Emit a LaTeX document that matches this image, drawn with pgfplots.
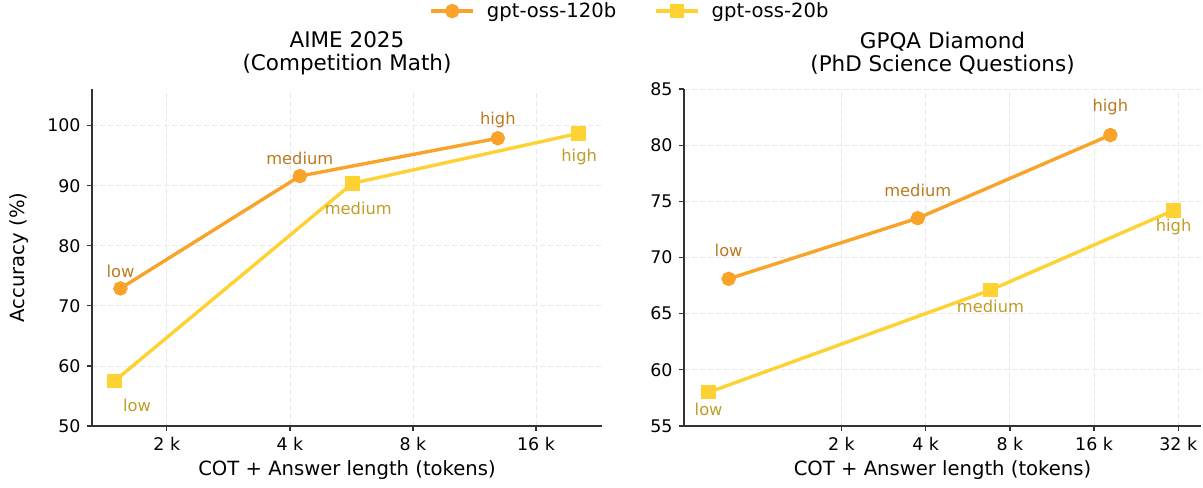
\documentclass[border=0pt]{standalone}
\usepackage{fontspec}
\setmainfont{DejaVu Sans}
\usepackage{pgfplots}
\pgfplotsset{compat=1.18}

\definecolor{c120}{HTML}{F9A32A}
\definecolor{c20}{HTML}{FDD232}
\definecolor{t120}{HTML}{BB7A20}
\definecolor{t20}{HTML}{BE9E26}
\definecolor{spine}{HTML}{333333}

\newcommand{\tickfont}{\fontsize{17.4bp}{20bp}\selectfont}
\newcommand{\labfont}{\fontsize{19.6bp}{22bp}\selectfont}
\newcommand{\titfont}{\fontsize{21.5bp}{23bp}\selectfont}
\newcommand{\annfont}{\fontsize{16.3bp}{18bp}\selectfont}

\pgfplotsset{
  mypanel/.style={
    scale only axis,
    axis x line*=bottom, axis y line*=left,
    axis line style={-, spine, line width=1.3bp},
    tick style={spine, line width=1.3bp},
    tick align=outside,
    major tick length=5bp,
    minor tick length=0pt,
    xtick={2,4,8,16,32},
    xticklabels={2 k,4 k,8 k,16 k,32 k},
    xticklabel shift=3bp, yticklabel shift=3bp,
    ticklabel style={font=\tickfont},
    /pgf/number format/assume math mode=true,
    grid=major,
    major grid style={gray!18, line width=0.8bp, dash pattern=on 5bp off 3bp},
    title style={font=\titfont, align=center, yshift=5bp},
    xlabel={COT + Answer length (tokens)},
    xlabel style={font=\labfont, at={(axis description cs:0.5,0)}, anchor=center, yshift=-44bp},
    clip=false,
  },
  s120/.style={c120, line width=3.4bp, mark=*, mark size=5.5bp, mark options={solid, fill=c120, draw=c120}},
  s20/.style={c20, line width=3.4bp, mark=square*, mark size=5.5bp, mark options={solid, fill=c20, draw=c20}},
}

\begin{document}
\begin{tikzpicture}[x=1bp,y=1bp]
\useasboundingbox (0,0) rectangle (1203,488);

% left panel: AIME 2025
\begin{axis}[xmode=log, log basis x=2, mypanel,
  at={(92bp,62bp)}, anchor=south west,
  width=510bp, height=337bp,
  xmin=1.312, xmax=23.2,
  ymin=50, ymax=106.1,
  ytick={50,60,70,80,90,100},
  title={AIME 2025\\(Competition Math)},
  ylabel={Accuracy (\%)},
  ylabel style={font=\labfont, at={(axis description cs:-0.143,0.5)}, anchor=center},
  legend columns=2,
  legend style={at={(axis description cs:1.055,1.231)}, anchor=center,
    draw=none, fill=none, font=\labfont,
    /tikz/every odd column/.append style={column sep=10bp},
    /tikz/every even column/.append style={column sep=36bp}},
  legend image code/.code={\draw[#1, mark repeat=2, mark phase=2] plot coordinates {(0bp,0bp) (21bp,0bp) (42bp,0bp)};},
]
\addplot[s120] coordinates {(1.54,72.9) (4.23,91.6) (12.9,97.9)};
\addplot[s20] coordinates {(1.49,57.5) (5.69,90.4) (20.3,98.7)};
\legend{gpt-oss-120b, gpt-oss-20b}

\node[t120, font=\annfont] at (axis cs:1.54,75.8) {low};
\node[t120, font=\annfont] at (axis cs:4.23,94.5) {medium};
\node[t120, font=\annfont] at (axis cs:12.9,100.9) {high};
\node[t20, font=\annfont] at (axis cs:1.69,53.4) {low};
\node[t20, font=\annfont] at (axis cs:5.88,86.3) {medium};
\node[t20, font=\annfont] at (axis cs:20.4,94.7) {high};
\end{axis}

% right panel: GPQA Diamond
\begin{axis}[xmode=log, log basis x=2, mypanel,
  at={(684bp,62bp)}, anchor=south west,
  width=517bp, height=337bp,
  xmin=0.547, xmax=38.6,
  ymin=55, ymax=85,
  ytick={55,60,65,70,75,80,85},
  title={GPQA Diamond\\(PhD Science Questions)},
]
\addplot[s120] coordinates {(0.79,68.1) (3.75,73.5) (18.3,80.9)};
\addplot[s20] coordinates {(0.67,58.0) (6.82,67.1) (30.8,74.2)};

\node[t120, font=\annfont] at (axis cs:0.79,70.6) {low};
\node[t120, font=\annfont] at (axis cs:3.75,76.0) {medium};
\node[t120, font=\annfont] at (axis cs:18.3,83.4) {high};
\node[t20, font=\annfont] at (axis cs:0.67,56.5) {low};
\node[t20, font=\annfont] at (axis cs:6.82,65.6) {medium};
\node[t20, font=\annfont] at (axis cs:30.8,72.7) {high};
\end{axis}
\end{tikzpicture}
\end{document}
